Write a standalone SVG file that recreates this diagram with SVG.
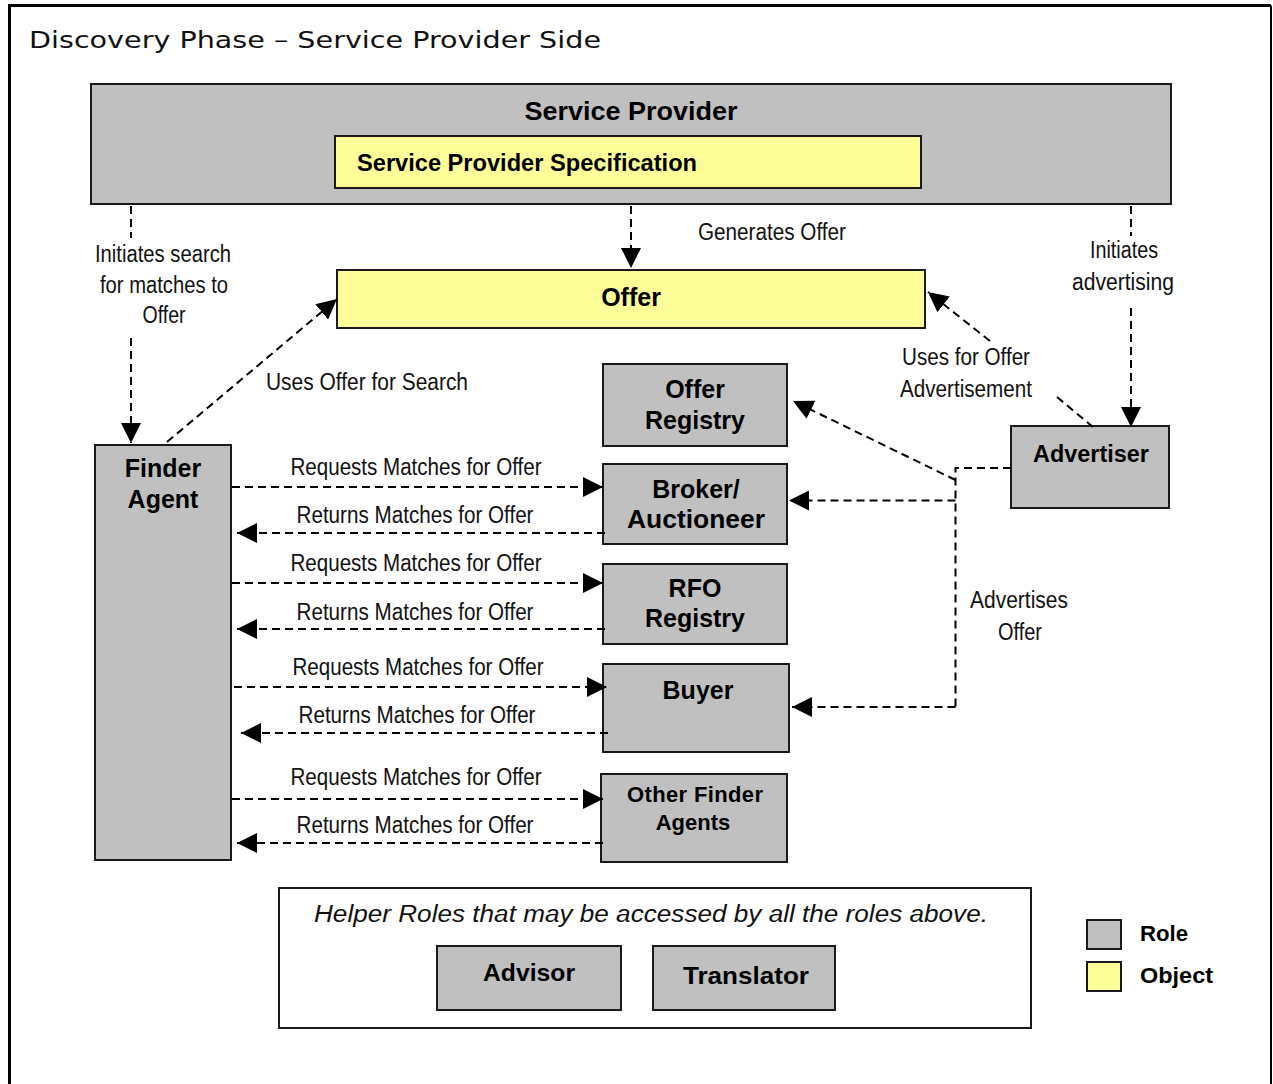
<svg xmlns="http://www.w3.org/2000/svg" width="1273" height="1084" viewBox="0 0 1273 1084">
<style>
.role{fill:#c0c0c0;stroke:#1a1a1a;stroke-width:2}
.obj{fill:#ffff99;stroke:#1a1a1a;stroke-width:2}
.plain{fill:#ffffff;stroke:#1a1a1a;stroke-width:2}
.b{font-family:"Liberation Sans",Arial,sans-serif;font-weight:bold;fill:#000;text-anchor:middle}
.lbl{font-family:"Liberation Sans",Arial,sans-serif;font-size:23.5px;fill:#111;text-anchor:middle}
.dash{stroke:#000;stroke-width:2;stroke-dasharray:8 5;fill:none}
</style>
<defs>
<marker id="ah" markerUnits="userSpaceOnUse" markerWidth="20" markerHeight="20" refX="20" refY="10" orient="auto">
<path d="M0,0 L20,10 L0,20 z" fill="#000"/>
</marker>
</defs>
<rect x="0" y="0" width="1273" height="1084" fill="#fff"/>
<g id="frame">
<path d="M9.5,1084 V5.5 H1271" fill="none" stroke="#000" stroke-width="3"/>
<path d="M1271,5.5 V1084" fill="none" stroke="#000" stroke-width="2"/>
<text x="29" y="48" font-family="DejaVu Sans,Verdana,sans-serif" font-size="23" fill="#111" textLength="572" lengthAdjust="spacingAndGlyphs">Discovery Phase – Service Provider Side</text>
</g>
<g id="service-provider">
<rect class="role" x="91" y="84" width="1080" height="120"/>
<text class="b" x="631" y="120" font-size="25" textLength="213" lengthAdjust="spacingAndGlyphs">Service Provider</text>
</g>
<g id="spec">
<rect class="obj" x="335" y="136" width="586" height="52"/>
<text class="b" x="357" y="171" font-size="23" style="text-anchor:start" textLength="340" lengthAdjust="spacingAndGlyphs">Service Provider Specification</text>
</g>
<g id="offer">
<rect class="obj" x="337" y="270" width="588" height="58"/>
<text class="b" x="631" y="306" font-size="25">Offer</text>
</g>
<g id="finder-agent">
<rect class="role" x="95" y="445" width="136" height="415"/>
<text class="b" x="163" y="477" font-size="25">Finder</text>
<text class="b" x="163" y="508" font-size="25">Agent</text>
</g>
<g id="offer-registry">
<rect class="role" x="603" y="364" width="184" height="82"/>
<text class="b" x="695" y="398" font-size="25">Offer</text>
<text class="b" x="695" y="429" font-size="25">Registry</text>
</g>
<g id="broker">
<rect class="role" x="603" y="464" width="184" height="80"/>
<text class="b" x="696" y="498" font-size="25">Broker/</text>
<text class="b" x="696" y="528" font-size="25" textLength="138" lengthAdjust="spacingAndGlyphs">Auctioneer</text>
</g>
<g id="rfo-registry">
<rect class="role" x="603" y="564" width="184" height="80"/>
<text class="b" x="695" y="597" font-size="25">RFO</text>
<text class="b" x="695" y="627" font-size="25">Registry</text>
</g>
<g id="buyer">
<rect class="role" x="603" y="664" width="186" height="88"/>
<text class="b" x="698" y="699" font-size="25">Buyer</text>
</g>
<g id="other-finder-agents">
<rect class="role" x="601" y="774" width="186" height="88"/>
<text class="b" x="695" y="802" font-size="22" textLength="136" lengthAdjust="spacing">Other Finder</text>
<text class="b" x="693" y="830" font-size="22">Agents</text>
</g>
<g id="advertiser">
<rect class="role" x="1011" y="426" width="158" height="82"/>
<text class="b" x="1091" y="462" font-size="23" textLength="116" lengthAdjust="spacingAndGlyphs">Advertiser</text>
</g>
<g id="helper-roles">
<rect class="plain" x="279" y="888" width="752" height="140"/>
<text x="651" y="922" font-family="Liberation Sans,Arial,sans-serif" font-style="italic" font-size="23" fill="#111" text-anchor="middle" textLength="674" lengthAdjust="spacingAndGlyphs">Helper Roles that may be accessed by all the roles above.</text>
</g>
<g id="advisor">
<rect class="role" x="437" y="946" width="184" height="64"/>
<text class="b" x="529" y="981" font-size="24" textLength="92" lengthAdjust="spacingAndGlyphs">Advisor</text>
</g>
<g id="translator">
<rect class="role" x="653" y="946" width="182" height="64"/>
<text class="b" x="746" y="984" font-size="24" textLength="126" lengthAdjust="spacingAndGlyphs">Translator</text>
</g>
<g id="legend">
<rect class="role" x="1087" y="920" width="34" height="29"/>
<text class="b" x="1140" y="941" font-size="22" style="text-anchor:start" textLength="48" lengthAdjust="spacingAndGlyphs">Role</text>
<rect class="obj" x="1087" y="962" width="34" height="29"/>
<text class="b" x="1140" y="983" font-size="22" style="text-anchor:start" textLength="73" lengthAdjust="spacingAndGlyphs">Object</text>
</g>
<g id="connectors">
<path class="dash" d="M131,206 V238"/>
<path class="dash" d="M131,338 V443" marker-end="url(#ah)"/>
<path class="dash" d="M631,206 V268" marker-end="url(#ah)"/>
<path class="dash" d="M1131,206 V236"/>
<path class="dash" d="M1131,308 V427" marker-end="url(#ah)"/>
<path class="dash" d="M167,442 L337,299" marker-end="url(#ah)"/>
<path class="dash" d="M990,341 L928,292" marker-end="url(#ah)"/>
<path class="dash" d="M1057,397 L1093,427"/>
<path class="dash" d="M1011,468 H955.5 V707"/>
<path class="dash" d="M955.5,480 L793,401" marker-end="url(#ah)"/>
<path class="dash" d="M955.5,500.5 H789" marker-end="url(#ah)"/>
<path class="dash" d="M955.5,707 H792" marker-end="url(#ah)"/>
<path class="dash" d="M232,487 H603" marker-end="url(#ah)"/>
<path class="dash" d="M605,533 H237" marker-end="url(#ah)"/>
<path class="dash" d="M232,583 H603" marker-end="url(#ah)"/>
<path class="dash" d="M605,629 H237" marker-end="url(#ah)"/>
<path class="dash" d="M234,687 H607" marker-end="url(#ah)"/>
<path class="dash" d="M608,733 H241" marker-end="url(#ah)"/>
<path class="dash" d="M232,799 H603" marker-end="url(#ah)"/>
<path class="dash" d="M603,843 H237" marker-end="url(#ah)"/>
<text class="lbl" x="163" y="262" textLength="136" lengthAdjust="spacingAndGlyphs">Initiates search</text>
<text class="lbl" x="164" y="293" textLength="128" lengthAdjust="spacingAndGlyphs">for matches to</text>
<text class="lbl" x="164" y="323" textLength="43" lengthAdjust="spacingAndGlyphs">Offer</text>
<text class="lbl" x="772" y="240" textLength="148" lengthAdjust="spacingAndGlyphs">Generates Offer</text>
<text class="lbl" x="1124" y="258" textLength="68" lengthAdjust="spacingAndGlyphs">Initiates</text>
<text class="lbl" x="1123" y="290" textLength="102" lengthAdjust="spacingAndGlyphs">advertising</text>
<text class="lbl" x="367" y="390" textLength="202" lengthAdjust="spacingAndGlyphs">Uses Offer for Search</text>
<text class="lbl" x="966" y="365" textLength="128" lengthAdjust="spacingAndGlyphs">Uses for Offer</text>
<text class="lbl" x="966" y="397" textLength="132" lengthAdjust="spacingAndGlyphs">Advertisement</text>
<text class="lbl" x="1019" y="608" textLength="98" lengthAdjust="spacingAndGlyphs">Advertises</text>
<text class="lbl" x="1020" y="640" textLength="44" lengthAdjust="spacingAndGlyphs">Offer</text>
<text class="lbl" x="416" y="475" textLength="251" lengthAdjust="spacingAndGlyphs">Requests Matches for Offer</text>
<text class="lbl" x="415" y="523" textLength="237" lengthAdjust="spacingAndGlyphs">Returns Matches for Offer</text>
<text class="lbl" x="416" y="571" textLength="251" lengthAdjust="spacingAndGlyphs">Requests Matches for Offer</text>
<text class="lbl" x="415" y="620" textLength="237" lengthAdjust="spacingAndGlyphs">Returns Matches for Offer</text>
<text class="lbl" x="418" y="675" textLength="251" lengthAdjust="spacingAndGlyphs">Requests Matches for Offer</text>
<text class="lbl" x="417" y="723" textLength="237" lengthAdjust="spacingAndGlyphs">Returns Matches for Offer</text>
<text class="lbl" x="416" y="785" textLength="251" lengthAdjust="spacingAndGlyphs">Requests Matches for Offer</text>
<text class="lbl" x="415" y="833" textLength="237" lengthAdjust="spacingAndGlyphs">Returns Matches for Offer</text>
</g>
</svg>
